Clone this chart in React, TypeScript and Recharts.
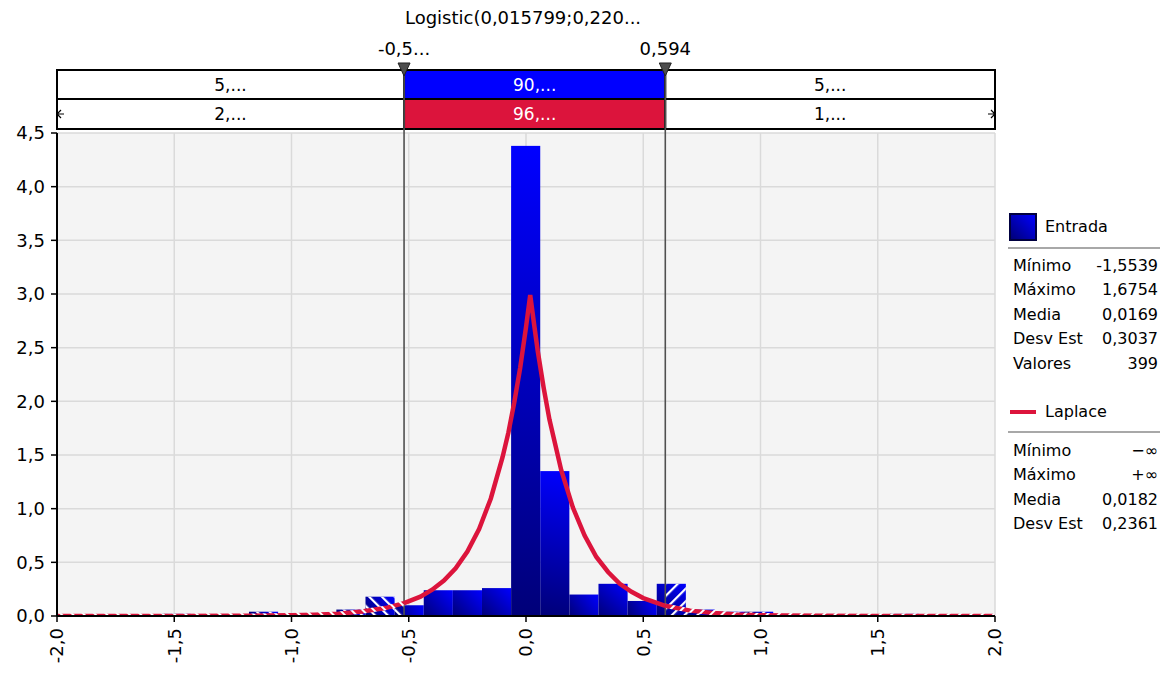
import React from 'react';
import {
  ComposedChart,
  Line,
  XAxis,
  YAxis,
  CartesianGrid,
  ReferenceArea,
  ReferenceLine,
  ReferenceDot,
} from 'recharts';

// histogram bins (26 bins between min and max of the sample)
const binEdges = [
  -1.5539, -1.4297, -1.3055, -1.1813, -1.0571, -0.9329, -0.8087, -0.6845, -0.5603,
  -0.4361, -0.3119, -0.1877, -0.0635, 0.0607, 0.1849, 0.3091, 0.4333, 0.5575, 0.6817,
  0.8059, 0.9301, 1.0543, 1.1785, 1.3027, 1.4269, 1.5511, 1.6754,
];
const binDensity = [
  0.02, 0, 0, 0.04, 0.02, 0.02, 0.06, 0.18, 0.1, 0.24, 0.24, 0.26, 4.38, 1.35, 0.2, 0.3,
  0.14, 0.3, 0.06, 0.04, 0.04, 0, 0, 0, 0, 0.02,
];

// fitted Laplace curve, split at the two delimiters
const laplaceLeft = [
  { x: -2.0, y: 0 }, { x: -1.75, y: 0 }, { x: -1.5, y: 0.0003 }, { x: -1.25, y: 0.0015 },
  { x: -1.1, y: 0.0037 }, { x: -1.0, y: 0.0067 }, { x: -0.9, y: 0.012 }, { x: -0.8, y: 0.022 },
  { x: -0.7, y: 0.041 }, { x: -0.6, y: 0.074 }, { x: -0.52, y: 0.12 },
];
const laplaceMid = [
  { x: -0.52, y: 0.12 }, { x: -0.45, y: 0.18 }, { x: -0.4, y: 0.245 }, { x: -0.35, y: 0.33 },
  { x: -0.3, y: 0.445 }, { x: -0.25, y: 0.6 }, { x: -0.2, y: 0.81 }, { x: -0.15, y: 1.095 },
  { x: -0.1, y: 1.48 }, { x: -0.075, y: 1.71 }, { x: -0.05, y: 1.99 }, { x: -0.025, y: 2.31 },
  { x: 0.0, y: 2.69 }, { x: 0.018, y: 2.99 }, { x: 0.035, y: 2.71 }, { x: 0.05, y: 2.47 },
  { x: 0.075, y: 2.13 }, { x: 0.1, y: 1.83 }, { x: 0.15, y: 1.36 }, { x: 0.2, y: 1.01 },
  { x: 0.25, y: 0.75 }, { x: 0.3, y: 0.55 }, { x: 0.35, y: 0.41 }, { x: 0.4, y: 0.3 },
  { x: 0.45, y: 0.225 }, { x: 0.5, y: 0.167 }, { x: 0.594, y: 0.095 },
];
const laplaceRight = [
  { x: 0.594, y: 0.095 }, { x: 0.7, y: 0.05 }, { x: 0.8, y: 0.028 }, { x: 0.9, y: 0.015 },
  { x: 1.0, y: 0.008 }, { x: 1.1, y: 0.0046 }, { x: 1.25, y: 0.0015 }, { x: 1.5, y: 0.0003 },
  { x: 1.75, y: 0 }, { x: 2.0, y: 0 },
];

const cutLeft = -0.52;
const cutRight = 0.594;
const cutLabels = ['-0,5...', '0,594'];

const row1Labels = ['5,...', '90,...', '5,...'];
const row2Labels = ['2,...', '96,...', '1,...'];

const xTicks = [-2, -1.5, -1, -0.5, 0, 0.5, 1, 1.5, 2];
const yTicks = [0, 0.5, 1, 1.5, 2, 2.5, 3, 3.5, 4, 4.5];

const entradaStats = [
  ['Mínimo', '-1,5539'],
  ['Máximo', '1,6754'],
  ['Media', '0,0169'],
  ['Desv Est', '0,3037'],
  ['Valores', '399'],
];
const laplaceStats = [
  ['Mínimo', '−∞'],
  ['Máximo', '+∞'],
  ['Media', '0,0182'],
  ['Desv Est', '0,2361'],
];

// y levels (in axis units) of the delimiter bands drawn above the plot
const BAND_TOP = 5.087;
const BAND_MID = 4.817;
const BAND_BOTTOM = 4.537;

const FONT = '"DejaVu Sans", Verdana, sans-serif';
const BLUE = '#0000ff';
const CRIMSON = '#dc143c';

const fmt = (v: number) => v.toFixed(1).replace('.', ',');

const GradBar = (props: any) => {
  const { x, y, width, height, gid } = props;
  if (!(width > 0) || !(height > 0)) return null;
  return (
    <g>
      <defs>
        <linearGradient id={gid} gradientUnits="userSpaceOnUse" x1={x} y1={y + height} x2={x + width} y2={y}>
          <stop offset="0" stopColor="#000078" />
          <stop offset="1" stopColor="#0000ff" />
        </linearGradient>
      </defs>
      <rect x={x} y={y} width={width} height={height} fill={`url(#${gid})`} />
    </g>
  );
};

const XTick = (props: any) => {
  const { x, y, payload } = props;
  return (
    <text
      x={x}
      y={y}
      transform={`rotate(-90, ${x}, ${y})`}
      textAnchor="end"
      dy="0.36em"
      fontSize={18}
      fill="#000"
      fontFamily={FONT}
    >
      {fmt(payload.value)}
    </text>
  );
};

const CutMarker = (props: any) => {
  const { cx, cy, text } = props;
  return (
    <g>
      <text x={cx} y={cy - 15} textAnchor="middle" fontSize={18} fill="#000" fontFamily={FONT}>
        {text}
      </text>
      <path d={`M${cx - 6},${cy - 7} L${cx + 6},${cy - 7} L${cx},${cy + 6} Z`} fill="#4d4d4d" stroke="#222" strokeWidth={1} />
    </g>
  );
};

const EndArrow = (props: any) => {
  const { cx, cy, dir } = props;
  const s = dir < 0 ? 1 : -1;
  return (
    <path
      d={`M${cx + 4 * s},${cy - 4} L${cx},${cy} L${cx + 4 * s},${cy + 4} M${cx},${cy} L${cx + 7 * s},${cy}`}
      stroke="#000"
      strokeWidth={1.2}
      fill="none"
    />
  );
};

const bins = binDensity.map((d, i) => ({ lo: binEdges[i], hi: binEdges[i + 1], d, i })).filter((b) => b.d > 0);
const hatchLeft = bins.filter((b) => b.lo < cutLeft).map((b) => ({ ...b, hi: Math.min(b.hi, cutLeft) }));
const hatchRight = bins.filter((b) => b.hi > cutRight).map((b) => ({ ...b, lo: Math.max(b.lo, cutRight) }));
const segments = [
  [-2, cutLeft],
  [cutLeft, cutRight],
  [cutRight, 2],
];

const StatRows = ({ rows, top }: { rows: string[][]; top: number }) => (
  <>
    {rows.map((r, i) => (
      <div
        key={r[0]}
        style={{
          position: 'absolute',
          left: 5,
          right: 2,
          top: top + i * 24.6,
          height: 24,
          display: 'flex',
          justifyContent: 'space-between',
          alignItems: 'center',
        }}
      >
        <span>{r[0]}</span>
        <span>{r[1]}</span>
      </div>
    ))}
  </>
);

const Legend = () => (
  <div style={{ position: 'absolute', left: 1008, top: 0, width: 152, height: 675, fontSize: 16, fontFamily: FONT, color: '#000' }}>
    <div
      style={{
        position: 'absolute',
        left: 1,
        top: 213,
        width: 24,
        height: 24,
        border: '2px solid #000040',
        background: 'linear-gradient(to top right, #000078, #0000ff)',
      }}
    />
    <div style={{ position: 'absolute', left: 37, top: 215, height: 24, lineHeight: '24px' }}>Entrada</div>
    <div style={{ position: 'absolute', left: 0, right: 0, top: 247, height: 2, background: '#a8a8a8' }} />
    <StatRows rows={entradaStats} top={253} />
    <div style={{ position: 'absolute', left: 2, top: 410, width: 26, height: 4, background: CRIMSON }} />
    <div style={{ position: 'absolute', left: 37, top: 400, height: 24, lineHeight: '24px' }}>Laplace</div>
    <div style={{ position: 'absolute', left: 0, right: 0, top: 431, height: 2, background: '#a8a8a8' }} />
    <StatRows rows={laplaceStats} top={438} />
  </div>
);

export default function App() {
  return (
    <div style={{ position: 'absolute', left: 0, top: 0, width: 1173, height: 675, fontFamily: FONT, background: '#fff' }}>
      <div
        style={{
          position: 'absolute',
          left: 323,
          top: 7,
          width: 400,
          textAlign: 'center',
          fontSize: 18,
          fontFamily: FONT,
          color: '#000',
        }}
      >
        Logistic(0,015799;0,220...
      </div>
      <ComposedChart width={1173} height={675} margin={{ top: 133, right: 178, bottom: 9, left: 7 }}>
        <defs>
          <pattern id="hatchL" patternUnits="userSpaceOnUse" width="9" height="9" patternTransform="rotate(-45)">
            <rect width="2.2" height="9" fill="#fff" />
          </pattern>
          <pattern id="hatchR" patternUnits="userSpaceOnUse" width="9" height="9" patternTransform="rotate(45)">
            <rect width="2.2" height="9" fill="#fff" />
          </pattern>
          <pattern id="lineL" patternUnits="userSpaceOnUse" width="8" height="8" patternTransform="rotate(-45)">
            <rect width="8" height="8" fill={CRIMSON} />
            <rect width="2" height="8" fill="#fff" />
          </pattern>
          <pattern id="lineR" patternUnits="userSpaceOnUse" width="8" height="8" patternTransform="rotate(45)">
            <rect width="8" height="8" fill={CRIMSON} />
            <rect width="2" height="8" fill="#fff" />
          </pattern>
        </defs>
        <CartesianGrid fill="#f4f4f4" stroke="#dadada" strokeWidth={1.5} />
        <XAxis
          type="number"
          dataKey="x"
          domain={[-2, 2]}
          ticks={xTicks}
          interval={0}
          allowDataOverflow
          height={50}
          tickSize={6}
          tickMargin={6}
          tick={<XTick />}
          axisLine={{ stroke: '#000', strokeWidth: 2 }}
          tickLine={{ stroke: '#000', strokeWidth: 1.5 }}
        />
        <YAxis
          type="number"
          domain={[0, 4.5]}
          ticks={yTicks}
          interval={0}
          allowDataOverflow
          width={50}
          tickSize={6}
          tickMargin={6}
          tickFormatter={fmt}
          tick={{ fontSize: 18, fill: '#000', fontFamily: FONT }}
          axisLine={{ stroke: '#000', strokeWidth: 2 }}
          tickLine={{ stroke: '#000', strokeWidth: 1.5 }}
        />
        {bins.map((b) => (
          <ReferenceArea
            key={`bin${b.i}`}
            x1={b.lo}
            x2={b.hi}
            y1={0}
            y2={b.d}
            ifOverflow="visible"
            shape={(p: any) => <GradBar {...p} gid={`bingrad${b.i}`} />}
          />
        ))}
        {hatchLeft.map((b) => (
          <ReferenceArea key={`hl${b.i}`} x1={b.lo} x2={b.hi} y1={0} y2={b.d} fill="url(#hatchL)" fillOpacity={1} stroke="none" ifOverflow="visible" />
        ))}
        {hatchRight.map((b) => (
          <ReferenceArea key={`hr${b.i}`} x1={b.lo} x2={b.hi} y1={0} y2={b.d} fill="url(#hatchR)" fillOpacity={1} stroke="none" ifOverflow="visible" />
        ))}
        {[cutLeft, cutRight].map((c) => (
          <ReferenceLine
            key={`cut${c}`}
            segment={[
              { x: c, y: 0 },
              { x: c, y: BAND_TOP },
            ]}
            stroke="#505050"
            strokeWidth={1.6}
            ifOverflow="visible"
          />
        ))}
        <Line data={laplaceLeft} dataKey="y" type="linear" stroke="url(#lineL)" strokeWidth={4.5} dot={false} activeDot={false} isAnimationActive={false} />
        <Line data={laplaceRight} dataKey="y" type="linear" stroke="url(#lineR)" strokeWidth={4.5} dot={false} activeDot={false} isAnimationActive={false} />
        <Line data={laplaceMid} dataKey="y" type="linear" stroke={CRIMSON} strokeWidth={4.5} dot={false} activeDot={false} isAnimationActive={false} />
        {segments.map((s, i) => (
          <ReferenceArea
            key={`r1${i}`}
            x1={s[0]}
            x2={s[1]}
            y1={BAND_MID}
            y2={BAND_TOP}
            fill={i === 1 ? BLUE : '#fff'}
            fillOpacity={1}
            stroke="#000"
            strokeWidth={2}
            ifOverflow="visible"
            label={{ value: row1Labels[i], position: 'center', fill: i === 1 ? '#fff' : '#000', fontSize: 17, fontFamily: FONT }}
          />
        ))}
        {segments.map((s, i) => (
          <ReferenceArea
            key={`r2${i}`}
            x1={s[0]}
            x2={s[1]}
            y1={BAND_BOTTOM}
            y2={BAND_MID}
            fill={i === 1 ? CRIMSON : '#fff'}
            fillOpacity={1}
            stroke="#000"
            strokeWidth={2}
            ifOverflow="visible"
            label={{ value: row2Labels[i], position: 'center', fill: i === 1 ? '#fff' : '#000', fontSize: 17, fontFamily: FONT }}
          />
        ))}
        {[cutLeft, cutRight].map((c, i) => (
          <ReferenceDot
            key={`mk${c}`}
            x={c}
            y={BAND_TOP}
            ifOverflow="visible"
            shape={(p: any) => <CutMarker {...p} text={cutLabels[i]} />}
          />
        ))}
        {[-2, 2].map((c) => (
          <ReferenceDot
            key={`ar${c}`}
            x={c}
            y={(BAND_MID + BAND_BOTTOM) / 2}
            ifOverflow="visible"
            shape={(p: any) => <EndArrow {...p} dir={c} />}
          />
        ))}
      </ComposedChart>
      <Legend />
    </div>
  );
}
